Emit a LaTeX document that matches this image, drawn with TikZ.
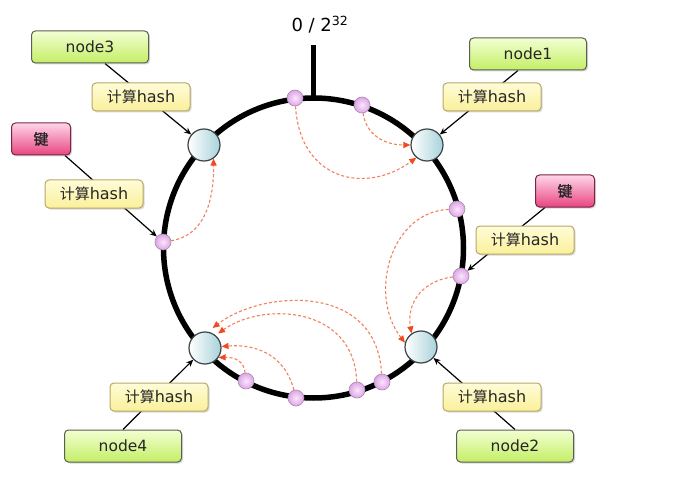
\documentclass[tikz,border=0pt]{standalone}
\usepackage{fontspec}
\setmainfont{DejaVu Sans}
\newfontfamily\cjk{Noto Sans CJK SC}
\newfontfamily\cjkbold[FakeBold=1.2]{Noto Sans CJK SC}
\usetikzlibrary{arrows.meta,shadows,calc}
\pgfdeclarelayer{background}
\pgfsetlayers{background,main}
\definecolor{gtop}{HTML}{F2FFD2}
\definecolor{gbot}{HTML}{C4EE66}
\definecolor{gline}{HTML}{5A6050}
\definecolor{ytop}{HTML}{FFFCD8}
\definecolor{ybot}{HTML}{FAF09A}
\definecolor{yline}{HTML}{B8A868}
\definecolor{ktop}{HTML}{FFD6EA}
\definecolor{kbot}{HTML}{E8457F}
\definecolor{kline}{HTML}{7A2444}
\definecolor{cblue}{HTML}{A8D2DA}
\definecolor{cline}{HTML}{3C4446}
\definecolor{pinkin}{HTML}{FBE6FB}
\definecolor{pinkout}{HTML}{DDA6E6}
\definecolor{pline}{HTML}{A88AB0}
\definecolor{dashc}{HTML}{F2805E}
\definecolor{tipc}{HTML}{F04A1E}
\tikzset{
  box/.style={rounded corners=4pt, line width=1pt, inner sep=0pt,
    drop shadow={shadow xshift=1.5pt,shadow yshift=-1.5pt,opacity=0.3},
    font=\fontsize{15.5}{18}\selectfont, text=black!85},
  greenbox/.style={box, draw=gline, top color=gtop, bottom color=gbot,
    minimum width=117pt, minimum height=32pt},
  hashbox/.style={box, draw=yline, top color=ytop, bottom color=ybot,
    minimum width=98pt, minimum height=28pt, font=\fontsize{16}{18}\selectfont},
  keybox/.style={box, draw=kline, top color=ktop, bottom color=kbot,
    minimum width=59pt, minimum height=32pt},
  ringnode/.style={circle, draw=cline, line width=1.2pt, left color=white,
    right color=cblue, minimum size=32pt, inner sep=0pt},
  dot/.style={circle, draw=pline, line width=0.6pt, inner color=pinkin,
    outer color=pinkout, minimum size=16pt, inner sep=0pt},
  conn/.style={line width=1.2pt, -{Stealth[length=7pt,width=6pt]}},
  hop/.style={draw=dashc, line width=1.1pt, dash pattern=on 3pt off 2.2pt,
    -{Triangle[length=7pt,width=6pt,fill=tipc,color=tipc]}},
  ring/.style={line width=5.5pt},
}
\newcommand{\hashtxt}{{\cjk\fontsize{15}{18}\selectfont 计算}hash}
\newcommand{\keytxt}{{\cjkbold\fontsize{15}{18}\selectfont 键}}
\begin{document}
\begin{tikzpicture}[x=1pt,y=-1pt]
\useasboundingbox (0,0) rectangle (691,484);

% label
\node[font=\fontsize{18}{20}\selectfont] (zero) at (320,25) {0 / 2\textsuperscript{32}};

% ring nodes
\node[ringnode] (n3c) at (204,145) {};
\node[ringnode] (n1c) at (427,145) {};
\node[ringnode] (n2c) at (421,347) {};
\node[ringnode] (n4c) at (205,348) {};

% hash points
\node[dot] (p1) at (295,98) {};
\node[dot] (p2) at (362,105) {};
\node[dot] (p3) at (457,209) {};
\node[dot] (p4) at (461,276) {};
\node[dot] (p5) at (163,242) {};
\node[dot] (p6) at (246,381) {};
\node[dot] (p7) at (296,398) {};
\node[dot] (p8) at (357,390) {};
\node[dot] (p9) at (382,382) {};

% boxes
\node[greenbox] (n3) at (90,47) {node3};
\node[hashbox] (h3) at (141,97) {\hashtxt};
\node[keybox] (k1) at (41,139) {\keytxt};
\node[hashbox] (hk1) at (94,194) {\hashtxt};
\node[greenbox] (n1) at (528,54) {node1};
\node[hashbox] (h1) at (492,97) {\hashtxt};
\node[keybox] (k2) at (565,191) {\keytxt};
\node[hashbox] (hk2) at (525,240) {\hashtxt};
\node[greenbox] (n4) at (123,446) {node4};
\node[hashbox] (h4) at (159,397) {\hashtxt};
\node[hashbox] (h2) at (492,397) {\hashtxt};
\node[greenbox] (n2) at (515,446) {node2};

\coordinate (ringc) at (313.5,248);
\coordinate (ticktop) at (313,45);
\coordinate (tickbot) at (313,99);

\begin{pgfonlayer}{background}
  \fill[white] (0,0) rectangle (691,484);
  \draw[ring] (ringc) circle (150pt);
  \draw[line width=5pt] (ticktop) -- (tickbot);
  % connectors
  \draw[conn] ($(n3.south)+(15,0)$) -- (n3c);
  \draw[conn] ($(k1.south)+(24,0)$) -- (p5);
  \draw[conn] ($(n1.south)+(-10,0)$) -- (n1c);
  \draw[conn] ($(k2.south)+(-20,0)$) -- (p4);
  \draw[conn] (n4.north) -- (n4c);
  \draw[conn] (n2.north) -- (n2c);
  % dashed hops
  \draw[hop] (p1) .. controls (300,180) and (365,195) .. (n1c.230);
  \draw[hop] (p2) .. controls (366,135) and (385,145) .. (n1c.180);
  \draw[hop] (p5) .. controls (202,236) and (214,205) .. (n3c.-55);
  \draw[hop] (p3) .. controls (390,212) and (368,295) .. (n2c.165);
  \draw[hop] (p4) .. controls (426,280) and (406,300) .. (n2c.125);
  \draw[hop] (p6) .. controls (244,362) and (236,357) .. (n4c.-35);
  \draw[hop] (p7) .. controls (284,352) and (252,344) .. (n4c.5);
  \draw[hop, shorten >=3pt] (p8) .. controls (354,305) and (262,302) .. (n4c.50);
  \draw[hop, shorten >=6pt] (p9) .. controls (377,282) and (262,290) .. (n4c.80);
\end{pgfonlayer}
\end{tikzpicture}
\end{document}
